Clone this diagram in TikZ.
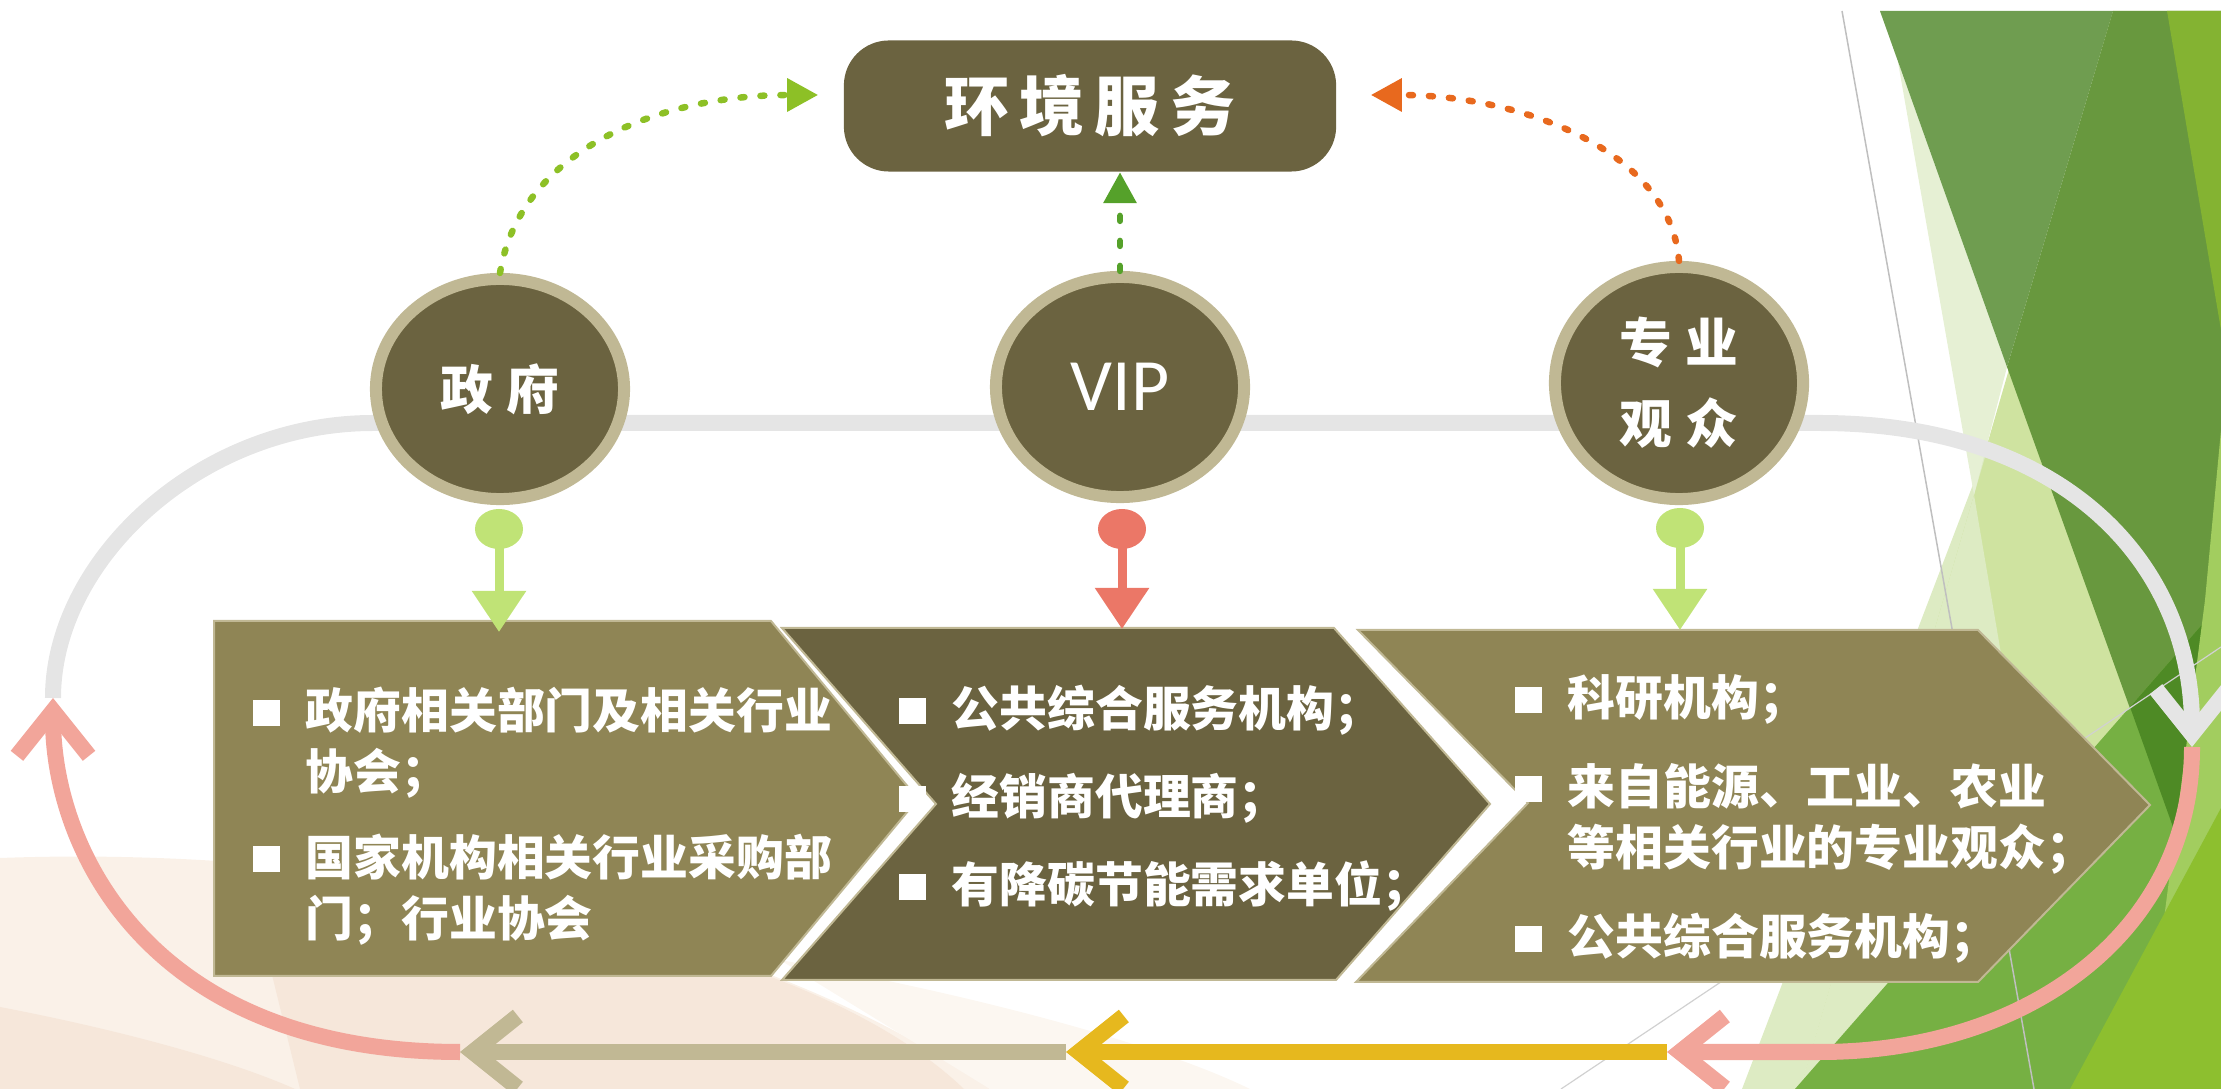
\documentclass[tikz,border=0pt]{standalone}
\usepackage{fontspec}
\usepackage{tikz}
\usetikzlibrary{arrows.meta,shapes.geometric}

\newfontfamily\cjk{Noto Sans CJK SC}
\newfontfamily\vipfont{Carlito}

\definecolor{darkolive}{RGB}{107,99,64}
\definecolor{boxolive}{RGB}{143,133,85}
\definecolor{ringtan}{RGB}{192,184,148}
\definecolor{knobgreen}{RGB}{192,227,118}
\definecolor{knobred}{RGB}{235,119,103}
\definecolor{loopgrey}{RGB}{229,229,229}
\definecolor{looppink}{RGB}{242,165,154}
\definecolor{looptan}{RGB}{193,184,148}
\definecolor{loopyellow}{RGB}{230,184,30}
\definecolor{dotgreen}{RGB}{141,192,38}
\definecolor{dotdark}{RGB}{85,161,42}
\definecolor{dotorange}{RGB}{232,105,30}
\definecolor{peachA}{RGB}{250,241,232}
\definecolor{peachB}{RGB}{246,231,218}
\definecolor{peachC}{RGB}{252,247,241}
\definecolor{leafpale}{RGB}{207,227,160}
\definecolor{leafmist}{RGB}{221,235,195}
\definecolor{leaffog}{RGB}{230,240,212}
\definecolor{leafmid}{RGB}{111,157,80}
\definecolor{leafdeep}{RGB}{104,152,62}
\definecolor{leafdark}{RGB}{78,138,37}
\definecolor{leaflime}{RGB}{132,179,50}
\definecolor{leafbright}{RGB}{118,176,67}
\definecolor{leafsoft}{RGB}{162,205,95}
\definecolor{leafyellow}{RGB}{141,191,47}

\newcommand\sqbullet{\raisebox{0.03cm}{\rule{0.27cm}{0.26cm}}}

\tikzset{
  party/.style={ellipse,fill=darkolive,draw=ringtan,line width=0.12cm,
    minimum width=2.48cm,minimum height=2.2cm,inner sep=0pt,text=white,align=center},
  title/.style={rectangle,rounded corners=0.45cm,fill=darkolive,text=white,
    minimum width=4.92cm,minimum height=1.31cm,font=\cjk\bfseries\fontsize{18.5}{20}\selectfont},
  knob/.style={ellipse,fill=#1,minimum width=0.48cm,minimum height=0.4cm,inner sep=0pt},
  stem/.style={draw=#1,line width=0.09cm,-{Triangle[width=0.52cm,length=0.41cm,fill=#1]}},
  cycleseg/.style={draw=#1,line width=0.16cm,-{Straight Barb[length=0.45cm,width=0.72cm]}},
  dotlink/.style={draw=#1,line width=0.065cm,line cap=round,dash pattern=on 0.04cm off 0.16cm,
    -{Triangle[width=0.32cm,length=0.31cm,fill=#1]}},
  chevron/.style={fill=#1,draw=ringtan,line width=0.02cm},
  itemtext/.style={anchor=base west,inner sep=0pt,text=white,
    font=\cjk\bfseries\fontsize{13.6}{17.3}\selectfont},
  callig/.style={font=\cjk\bfseries\fontsize{15}{23}\selectfont},
}

\begin{document}
\begin{tikzpicture}[x=0.01cm,y=-0.01cm]
  \useasboundingbox (0,0) rectangle (2221,1089);

  % background
  \fill[peachA] (0,858) .. controls (350,845) and (750,920) .. (990,1089) -- (0,1089) -- cycle;
  \fill[peachC] (780,960) .. controls (950,990) and (1150,1040) .. (1250,1089) -- (990,1089) -- cycle;
  \fill[peachB] (250,885) .. controls (600,900) and (850,980) .. (964,1089) -- (300,1089) -- cycle;
  \fill[peachB] (0,1007) .. controls (120,1030) and (230,1060) .. (295,1089) -- (0,1089) -- cycle;

  \fill[leafpale] (2113,11) -- (1800,1089) -- (2221,1089) -- (2221,11) -- cycle;
  \fill[leafmist] (1990,440) -- (1742,1089) -- (1800,1089) -- cycle;
  \fill[leafmist] (1974,495) -- (2075,1089) -- (1800,1089) -- cycle;
  \fill[leaffog] (1880,11) -- (1889,11) -- (1974,495) -- (2007,367) -- cycle;
  \fill[leafmid] (1880,11) -- (2113,11) -- (2007,367) -- cycle;
  \fill[leafdeep] (2113,11) -- (2221,11) -- (2221,961) -- (2007,367) -- cycle;
  \fill[leaflime] (2167,11) -- (2221,11) -- (2221,330) -- cycle;
  \fill[leafbright] (1795,1089) -- (2221,603) -- (2221,1089) -- cycle;
  \fill[leafdark] (2130,707) -- (2221,603) -- (2221,961) -- cycle;
  \fill[leafsoft] (2221,430) -- (2205,600) -- (2160,950) -- (2221,950) -- cycle;
  \fill[leafyellow] (2070,1089) -- (2221,808) -- (2221,1089) -- cycle;
  \draw[black!25,line width=0.015cm] (1842,11) -- (2034,1089);
  \draw[black!18,line width=0.012cm] (1561,1089) -- (2221,647);

  % cycle round the groups
  \coordinate (lup) at (53,698);
  \coordinate (rdown) at (2192,747);
  \coordinate (rturn) at (1667,1052);
  \coordinate (mid) at (1066,1052);
  \coordinate (lturn) at (460,1052);

  \draw[cycleseg=loopgrey] (lup) .. controls (53,560) and (200,423) .. (373,423)
    -- (1820,423) .. controls (2060,423) and (2192,560) .. (rdown);
  \draw[cycleseg=looppink] (rdown) .. controls (2192,930) and (2030,1052) .. (1820,1052) -- (rturn);
  \draw[cycleseg=loopyellow] (rturn) -- (mid);
  \draw[cycleseg=looptan] (mid) -- (lturn);
  \draw[cycleseg=looppink] (lturn) .. controls (150,1052) and (53,850) .. (lup);

  % chevrons
  \draw[chevron=boxolive] (214,621) -- (771,621) -- (918,799) -- (771,976) -- (214,976) -- cycle;
  \draw[chevron=darkolive] (782,628) -- (1334,628) -- (1490,804) -- (1336,980) -- (782,980) -- (936,804) -- cycle;
  \draw[chevron=boxolive] (1358,630) -- (1978,630) -- (2150,805) -- (1978,982) -- (1356,982) -- (1528,803) -- cycle;

  \node[itemtext] (govlist) at (252,729) {\begin{tabular}[t]{@{}l@{\hspace{0.26cm}}l@{}}
    \sqbullet & 政府相关部门及相关行业\\
              & 协会；\\[7pt]
    \sqbullet & 国家机构相关行业采购部\\
              & 门；行业协会
  \end{tabular}};
  \node[itemtext] (viplist) at (898,727) {\begin{tabular}[t]{@{}l@{\hspace{0.26cm}}l@{}}
    \sqbullet & 公共综合服务机构；\\[7.7pt]
    \sqbullet & 经销商代理商；\\[7.7pt]
    \sqbullet & 有降碳节能需求单位；
  \end{tabular}};
  \node[itemtext] (audlist) at (1514,716) {\begin{tabular}[t]{@{}l@{\hspace{0.26cm}}l@{}}
    \sqbullet & 科研机构；\\[8pt]
    \sqbullet & 来自能源、工业、农业\\
              & 等相关行业的专业观众；\\[8pt]
    \sqbullet & 公共综合服务机构；
  \end{tabular}};

  % groups
  \node[title] (svc) at (1090,106) {环\hspace{0.1cm}境\hspace{0.1cm}服\hspace{0.1cm}务};
  \node[party,callig] (gov) at (500,389) {政\hspace{0.14cm}府};
  \node[party,font=\vipfont\fontsize{21}{24}\selectfont] (vip) at (1120,387) {VIP};
  \node[party,callig,minimum height=2.32cm] (aud) at (1679,383) {专\hspace{0.14cm}业\\观\hspace{0.14cm}众};

  \draw[dotlink=dotgreen] (gov.north) .. controls (520,150) and (660,95) .. ([xshift=-0.25cm,yshift=0.11cm]svc.west);
  \draw[dotlink=dotorange] (aud.north) .. controls (1670,150) and (1520,95) .. ([xshift=0.34cm,yshift=0.11cm]svc.east);
  \draw[dotlink=dotdark,dash pattern=on 0.05cm off 0.2cm] (vip.north) -- (vip.north |- svc.south);

  % knobs
  \node[knob=knobgreen] (gk) at (499,529) {};
  \node[knob=knobred] (vk) at (1122,529) {};
  \node[knob=knobgreen] (ak) at (1680,528) {};
  \coordinate (gtip) at (499,632);
  \coordinate (vtip) at (1122,629);
  \coordinate (atip) at (1680,630);
  \draw[stem=knobgreen] (gk.center) -- (gtip);
  \draw[stem=knobred] (vk.center) -- (vtip);
  \draw[stem=knobgreen] (ak.center) -- (atip);
\end{tikzpicture}
\end{document}
